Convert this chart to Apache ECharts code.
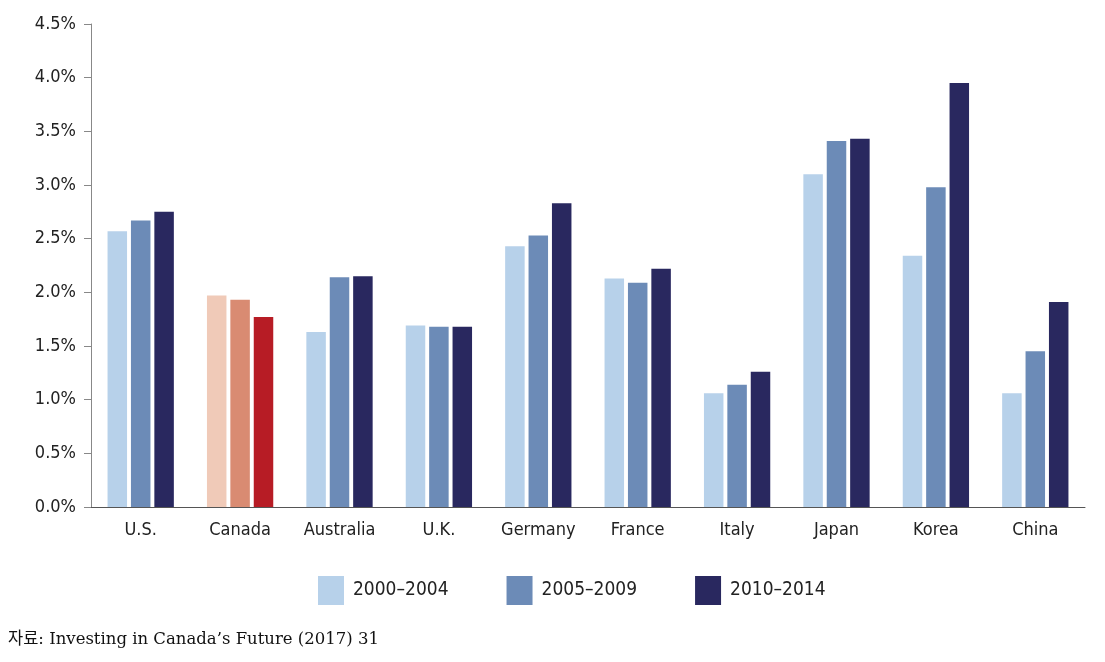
<!DOCTYPE html>
<html>
<head>
<meta charset="utf-8">
<title>R&D spending</title>
<script src="https://cdn.jsdelivr.net/npm/echarts@6/dist/echarts.min.js"></script>
<style>
  html, body { margin: 0; padding: 0; background: #ffffff; }
  #main { width: 1105px; height: 662px; }
</style>
</head>
<body>
<div id="main"></div>
<script>
// data
const countries = ["U.S.", "Canada", "Australia", "U.K.", "Germany", "France", "Italy", "Japan", "Korea", "China"];
const periods = ["2000–2004", "2005–2009", "2010–2014"];
const p2000 = [2.57, 1.97, 1.63, 1.69, 2.43, 2.13, 1.06, 3.10, 2.34, 1.06];
const p2005 = [2.67, 1.93, 2.14, 1.68, 2.53, 2.09, 1.14, 3.41, 2.98, 1.45];
const p2010 = [2.75, 1.77, 2.15, 1.68, 2.83, 2.22, 1.26, 3.43, 3.95, 1.91];
const yTicks = [0, 0.5, 1, 1.5, 2, 2.5, 3, 3.5, 4, 4.5];

const blues = ["#b7d1ea", "#6c8bb7", "#29285f"];
const reds = ["#f0cab8", "#d98b72", "#b71c25"];
const font = "'Liberation Sans Narrow', 'DejaVu Sans Condensed', 'Open Sans', sans-serif";

function makeSeries(name, values, i) {
  return {
    name: name,
    type: "bar",
    barWidth: 19.5,
    barGap: "20%",
    itemStyle: { color: blues[i] },
    data: values.map((v, k) => countries[k] === "Canada"
      ? { value: v, itemStyle: { color: reds[i] } }
      : v)
  };
}

let myChart = echarts.init(document.getElementById("main"));
let option = {
  animation: false,
  title: {
    text: "자료: Investing in Canada’s Future (2017) 31",
    left: 3,
    top: 626,
    textStyle: {
      fontFamily: "'DejaVu Serif', 'Liberation Serif', 'Noto Sans CJK KR', serif",
      fontWeight: "normal",
      fontSize: 16.5,
      color: "#111"
    }
  },
  legend: {
    data: periods,
    left: 313,
    top: 571,
    itemWidth: 26,
    itemHeight: 29,
    itemGap: 58,
    icon: "rect",
    textStyle: { fontFamily: font, fontSize: 19, color: "#222", padding: [0, 0, 0, 4] }
  },
  grid: { left: 91, top: 24, width: 994, height: 483 },
  xAxis: {
    type: "category",
    data: countries,
    axisLine: { lineStyle: { color: "#555", width: 1 } },
    axisTick: { inside: true, length: 8, lineStyle: { color: "#555" } },
    axisLabel: { fontFamily: font, fontSize: 18, color: "#222", margin: 14 }
  },
  yAxis: {
    type: "value",
    min: 0,
    max: 4.5,
    interval: 0.5,
    axisLine: { show: true, lineStyle: { color: "#888", width: 1 } },
    axisTick: { show: true, length: 7, lineStyle: { color: "#888" } },
    splitLine: { show: false },
    axisLabel: {
      fontFamily: font,
      fontSize: 18,
      color: "#222",
      margin: 15,
      formatter: v => yTicks.includes(v) ? v.toFixed(1) + "%" : ""
    }
  },
  series: [
    makeSeries(periods[0], p2000, 0),
    makeSeries(periods[1], p2005, 1),
    makeSeries(periods[2], p2010, 2)
  ]
};
myChart.setOption(option);
</script>
</body>
</html>
